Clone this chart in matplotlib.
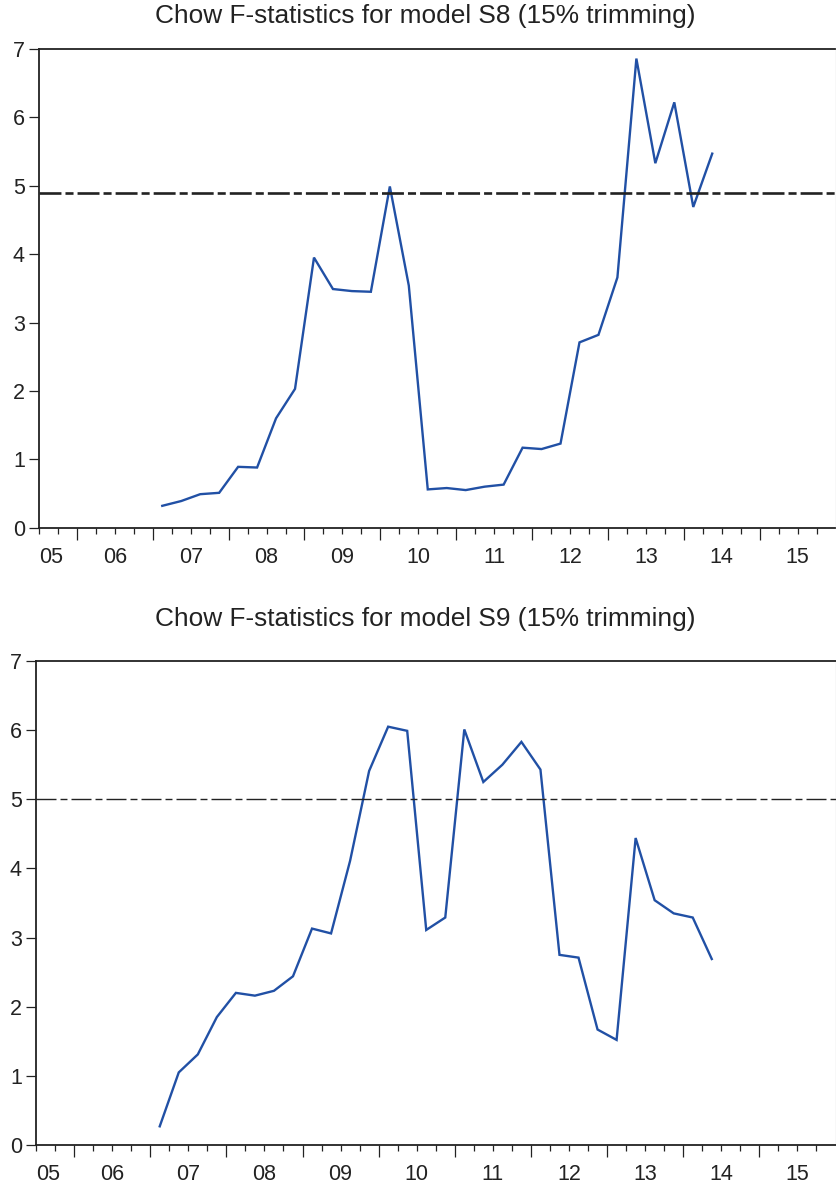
import numpy as np
import matplotlib
matplotlib.use("Agg")
import matplotlib.pyplot as plt
from matplotlib.ticker import FixedLocator, NullFormatter

# Quarterly break dates 2007Q1 .. 2014Q2 (plotted at the middle of each quarter)
first_year = 2007
n_obs = 30

# Chow F-statistics, model S8
f_stat_s8 = [0.32, 0.39, 0.49, 0.51, 0.89, 0.88, 1.60, 2.03, 3.95, 3.49,
             3.46, 3.45, 4.99, 3.54, 0.56, 0.58, 0.55, 0.60, 0.63, 1.17,
             1.15, 1.23, 2.71, 2.82, 3.66, 6.86, 5.33, 6.22, 4.69, 5.47]
crit_s8 = 4.90

# Chow F-statistics, model S9
f_stat_s9 = [0.27, 1.05, 1.31, 1.85, 2.20, 2.16, 2.23, 2.44, 3.13, 3.06,
             4.11, 5.41, 6.05, 5.99, 3.11, 3.29, 6.01, 5.25, 5.50, 5.83,
             5.43, 2.75, 2.71, 1.67, 1.52, 4.44, 3.54, 3.35, 3.29, 2.69]
crit_s9 = 5.00

titles = ["Chow F-statistics for model S8 (15% trimming)",
          "Chow F-statistics for model S9 (15% trimming)"]
year_labels = ["05", "06", "07", "08", "09", "10", "11", "12", "13", "14", "15"]
y_ticks = [0, 1, 2, 3, 4, 5, 6, 7]

plt.rcParams["font.family"] = ["Liberation Sans", "DejaVu Sans"]
plt.rcParams["lines.scale_dashes"] = False

W, H = 836, 1188
TEXT = "#222222"
BLUE = "#2150a5"

x_start, x_end = 2005.5, 2016.0
x_obs = first_year + (np.arange(n_obs) + 0.5) / 4.0


def px_axes(left, right, top, bottom):
    return [left / W, 1 - bottom / H, (right - left) / W, (bottom - top) / H]


def draw_panel(fig, rect, values, crit, crit_lw, crit_dash, title, title_y):
    ax = fig.add_axes(rect)
    ax.plot(x_obs, values, color=BLUE, lw=1.7, solid_joinstyle="miter")
    ax.axhline(crit, color=TEXT, lw=crit_lw, dashes=crit_dash)

    ax.set_xlim(x_start, x_end)
    ax.set_ylim(0, 7)
    ax.set_yticks(y_ticks)
    ax.set_yticklabels([str(v) for v in y_ticks])

    years = np.arange(2006, 2016)
    quarters = [q for q in np.arange(x_start, x_end + 0.01, 0.25)
                if abs(q - round(q)) > 1e-6]
    ax.xaxis.set_major_locator(FixedLocator(years))
    ax.xaxis.set_minor_locator(FixedLocator(quarters))
    ax.xaxis.set_major_formatter(NullFormatter())
    ax.tick_params(axis="x", which="major", direction="out", length=8.6, width=0.9, color=TEXT)
    ax.tick_params(axis="x", which="minor", direction="out", length=4.3, width=0.9, color=TEXT)
    ax.tick_params(axis="y", direction="out", length=7.2, width=0.9, color=TEXT,
                   labelsize=15.5, labelcolor=TEXT, pad=3)

    # year labels sit under the middle of each year
    for i, lab in enumerate(year_labels):
        if i == 0:
            ax.annotate(lab, xy=(x_start, 0), xycoords=("data", "axes fraction"),
                        xytext=(0, -21.5), textcoords="offset points",
                        ha="left", va="center", fontsize=15.5, color=TEXT)
        else:
            ax.annotate(lab, xy=(2005 + i + 0.5, 0), xycoords=("data", "axes fraction"),
                        xytext=(0, -21.5), textcoords="offset points",
                        ha="center", va="center", fontsize=15.5, color=TEXT)

    for side in ["left", "bottom", "top"]:
        ax.spines[side].set_linewidth(1.3)
        ax.spines[side].set_color(TEXT)
    ax.spines["right"].set_linewidth(0.8)
    ax.spines["right"].set_color("#888888")

    fig.text(425 / W, 1 - title_y / H, title, ha="center", va="center",
             fontsize=18.9, color=TEXT)
    return ax


def main():
    fig = plt.figure(figsize=(W / 100, H / 100), dpi=100)
    draw_panel(fig, px_axes(39, 835.5, 49, 527.7), f_stat_s8, crit_s8,
               1.9, (15.8, 2.9, 5.8, 2.9), titles[0], 16)
    draw_panel(fig, px_axes(36, 835.5, 661, 1145), f_stat_s9, crit_s9,
               1.0, (14.4, 2.9, 5.0, 2.9), titles[1], 619)
    fig.savefig("out.png", dpi=100)
    plt.close(fig)


if __name__ == "__main__":
    main()
